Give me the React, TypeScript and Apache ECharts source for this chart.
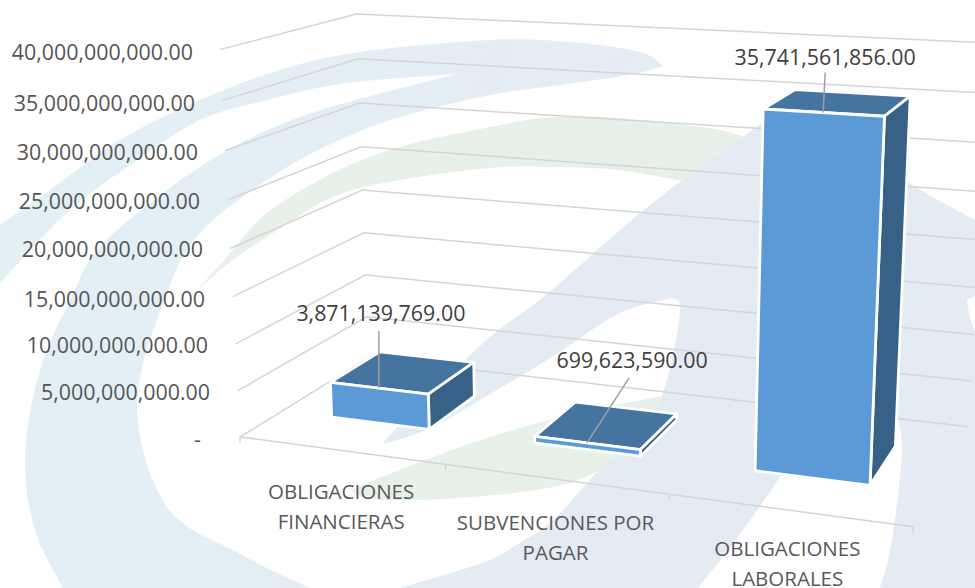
import React, { useEffect, useRef } from "react";
import * as echarts from "echarts";

// ---- data ----
const categories = ["OBLIGACIONES\nFINANCIERAS", "SUBVENCIONES POR\nPAGAR", "OBLIGACIONES\nLABORALES"];
const values = [3871139769, 699623590, 35741561856];
const axisTicks = [0, 5e9, 10e9, 15e9, 20e9, 25e9, 30e9, 35e9, 40e9];
const axisTickLabels = [
  "-",
  "5,000,000,000.00",
  "10,000,000,000.00",
  "15,000,000,000.00",
  "20,000,000,000.00",
  "25,000,000,000.00",
  "30,000,000,000.00",
  "35,000,000,000.00",
  "40,000,000,000.00",
];

// ---- layout of the perspective frame ----
const GRID = { left: 240, top: 52, width: 673, height: 387 };
// vanishing points and weights of the 3D box
const O = [240, 437];
const VX = [-4654, -215];
const VY = [600, 7400];
const VZ = [1344, -244];
const WX = -0.1209;
const WY = -0.0527;
const WZ = 0.1311;
function project(x: number, y: number, z: number): number[] {
  const u = x * WX, v = y * WY, w = z * WZ;
  const d = 1 + u + v + w;
  return [
    (O[0] + u * VX[0] + v * VY[0] + w * VZ[0]) / d,
    (O[1] + u * VX[1] + v * VY[1] + w * VZ[1]) / d,
  ];
}

const BAR_FRACTION = 0.49;
const Z_FRONT = 0.305;
const Z_BACK = 0.705;
const tickLabelRightPad = [9, 0, 2, 5, 7, 10, 12, 15, 17];
const tickLabelDownShift = [0, 1.4, 2.75, 5, 3.5, 3.9, 3.25, 2.6, -0.5];
const catShiftLeft = [22, 42, 27];
const catPadTop = [40, 71, 97];
const CAT_LINE_GAP = 9;
const leaderEnd = [[0, -57], [42, -65], [2, -40]];
const valueLabelOffset = [[2, -75.5], [45, -83.5], [2, -56.5]];

// ---- watermark outline ----
function smooth(segments: number[][][]): string {
  let d = "";
  segments.forEach((pts, si) => {
    d += (si === 0 ? "M" : "L") + pts[0][0] + " " + pts[0][1] + " ";
    for (let i = 0; i < pts.length - 1; i++) {
      const p0 = pts[Math.max(i - 1, 0)], p1 = pts[i], p2 = pts[i + 1], p3 = pts[Math.min(i + 2, pts.length - 1)];
      const c1 = [p1[0] + (p2[0] - p0[0]) / 6, p1[1] + (p2[1] - p0[1]) / 6];
      const c2 = [p2[0] - (p3[0] - p1[0]) / 6, p2[1] - (p3[1] - p1[1]) / 6];
      d += `C${c1[0]} ${c1[1]} ${c2[0]} ${c2[1]} ${p2[0]} ${p2[1]} `;
    }
  });
  return d + "Z";
}

const swirlPath = smooth([
  [[663, 66], [640, 52], [570, 42], [490, 40], [360, 52], [280, 70], [200, 100], [120, 140], [50, 190], [0, 225]],
  [[0, 283], [67, 213], [133, 163], [200, 120], [267, 100], [333, 85], [400, 78], [457, 74]],
  [[457, 74], [367, 97], [300, 117], [233, 147], [167, 190], [100, 247], [73, 294], [40, 370], [25, 457], [35, 530], [63, 588]],
  [[310, 588], [240, 554], [167, 507], [137, 404], [167, 293], [200, 233], [267, 180], [333, 143], [400, 117], [490, 95], [560, 85], [628, 75], [663, 66]],
]);
const greenTopPath = smooth([
  [[197, 290], [227, 257], [267, 213], [333, 173], [400, 147], [490, 127], [552, 117], [618, 118], [702, 127], [745, 137], [770, 150]],
  [[770, 150], [700, 190]],
  [[688, 182], [618, 170], [552, 167], [490, 168], [400, 180], [333, 197], [267, 237], [233, 260], [197, 290]],
]);
const greenLowPath = smooth([
  [[350, 490], [420, 462], [490, 437], [570, 415], [662, 396]],
  [[700, 400], [640, 470]],
  [[598, 471], [570, 483], [535, 490], [485, 496], [420, 500], [370, 499], [350, 490]],
]);
const grayPath = smooth([
  [[385, 440], [430, 395], [490, 337], [547, 294], [650, 205], [762, 123], [795, 100]],
  [[795, 100], [815, 115], [908, 182], [975, 220]],
  [[975, 588], [400, 588]],
  [[400, 588], [485, 562], [518, 544], [552, 521], [598, 471], [618, 454], [645, 427], [662, 396], [675, 345], [680, 305], [672, 298]],
  [[672, 298], [618, 314], [552, 357], [485, 397], [433, 427], [387, 443], [385, 440]],
]);
const whiteSwooshPath = smooth([
  [[698, 588], [738, 537], [782, 474], [830, 400]],
  [[890, 400], [902, 444], [892, 540], [880, 588]],
]);
const whiteTipPath = smooth([
  [[967, 300], [975, 296]],
  [[975, 332], [970, 318], [967, 300]],
]);
const greenSpeckPath = smooth([[[0, 226], [22, 212]], [[0, 233]]]);

const SHAPES: [string, string, any][] = [
  ["wmGreenTop", greenTopPath, "#e7f1ea"],
  ["wmGreenLow", greenLowPath, "#e7f1ea"],
  ["wmGreenSpeck", greenSpeckPath, "#e7f1ea"],
  ["wmSwirl", swirlPath, {
    type: "linear", x: 0, y: 0, x2: 1, y2: 0.3,
    colorStops: [{ offset: 0, color: "#e3f0f6" }, { offset: 0.5, color: "#e3eef5" }, { offset: 1, color: "#e6ecf4" }],
  }],
  ["wmGray", grayPath, "#e4ebf3"],
  ["wmWhiteSwoosh", whiteSwooshPath, "#ffffff"],
  ["wmWhiteTip", whiteTipPath, "#ffffff"],
];
SHAPES.forEach(([name, d]) => {
  echarts.graphic.registerShape(name, (echarts.graphic as any).extendPath(d, {}));
});

const FONT = '"Open Sans", sans-serif';
const GRID_COLOR = "#d5d5d5";

function formatValue(v: number): string {
  return v.toLocaleString("en-US", { minimumFractionDigits: 2, maximumFractionDigits: 2 });
}

function normalise(api: any, params: any, cat: number, val: number): number[] {
  const cs = params.coordSys;
  const p = api.coord([cat, val]);
  return [(p[0] - cs.x) / cs.width, (cs.y + cs.height - p[1]) / cs.height];
}

function renderGridLine(params: any, api: any) {
  const [, ny] = normalise(api, params, 0, api.value(1));
  const front = project(0, ny, 0);
  const back = project(0, ny, 1);
  const right = project(1, ny, 1);
  return {
    type: "polyline",
    silent: true,
    shape: { points: [front, back, right] },
    style: { fill: "none", stroke: GRID_COLOR, lineWidth: 1.5 },
  };
}

function renderFloorFront() {
  const stroke = GRID_COLOR;
  const children: any[] = [{
    type: "polyline",
    shape: { points: [project(0, 0, 0), project(1, 0, 0)] },
    style: { fill: "none", stroke, lineWidth: 1.5 },
  }];
  categories.concat("").forEach((_, i) => {
    const p = project(i / categories.length, 0, 0);
    children.push({
      type: "line",
      shape: { x1: p[0], y1: p[1], x2: p[0], y2: p[1] + 6 },
      style: { stroke, lineWidth: 1.5 },
    });
  });
  return { type: "group", silent: true, children };
}

function renderBar(params: any, api: any) {
  const cat = api.value(0);
  const val = api.value(1);
  const [nx, ny] = normalise(api, params, cat, val);
  const half = (api.size([1, 0])[0] / params.coordSys.width) * BAR_FRACTION / 2;
  const x0 = nx - half, x1 = nx + half;
  const fbl = project(x0, 0, Z_FRONT), fbr = project(x1, 0, Z_FRONT);
  const ftl = project(x0, ny, Z_FRONT), ftr = project(x1, ny, Z_FRONT);
  const bbr = project(x1, 0, Z_BACK);
  const btl = project(x0, ny, Z_BACK), btr = project(x1, ny, Z_BACK);
  const anchor = project(nx, ny, Z_FRONT);
  const i = params.dataIndex;
  const edge = { stroke: "#ffffff", lineWidth: 2.8, lineJoin: "round" };
  return {
    type: "group",
    silent: true,
    children: [
      { type: "polygon", shape: { points: [ftl, ftr, btr, btl] }, style: { fill: "#4674a1", ...edge } },
      { type: "polygon", shape: { points: [ftr, fbr, bbr, btr] }, style: { fill: "#386187", ...edge } },
      { type: "polygon", shape: { points: [ftl, ftr, fbr, fbl] }, style: { fill: "#5b9ad7", ...edge } },
      {
        type: "line",
        shape: { x1: anchor[0], y1: anchor[1], x2: anchor[0] + leaderEnd[i][0], y2: anchor[1] + leaderEnd[i][1] },
        style: { stroke: "#a0a0a0", lineWidth: 1.5 },
      },
      {
        type: "text",
        style: {
          x: anchor[0] + valueLabelOffset[i][0],
          y: anchor[1] + valueLabelOffset[i][1],
          text: formatValue(val),
          fill: "#404040",
          font: `21.4px ${FONT}`,
          align: "center",
          verticalAlign: "middle",
        },
      },
    ],
  };
}

const yRich: any = {};
axisTicks.forEach((_, i) => {
  yRich["y" + i] = {
    fontFamily: FONT,
    fontSize: 21.4,
    color: "#555555",
    padding: [Math.max(tickLabelDownShift[i], 0) * 2, tickLabelRightPad[i], Math.max(-tickLabelDownShift[i], 0) * 2, 0],
  };
});
const xRich: any = {};
categories.forEach((_, i) => {
  const base = { fontFamily: FONT, fontSize: 20.5, color: "#595959" };
  xRich["x" + i + "a"] = { ...base, padding: [catPadTop[i], catShiftLeft[i], 0, 0] };
  xRich["x" + i + "b"] = { ...base, padding: [CAT_LINE_GAP, catShiftLeft[i], 0, 0] };
});

export default function App() {
  const ref = useRef<HTMLDivElement>(null);
  useEffect(() => {
    const chart = echarts.init(ref.current!, undefined, { renderer: "svg" });
    chart.setOption({
      animation: false,
      backgroundColor: "#ffffff",
      graphic: {
        elements: SHAPES.map(([name, , fill]) => ({
          type: name,
          x: 0,
          y: 0,
          silent: true,
          style: { fill },
        })),
      },
      grid: { left: GRID.left, top: GRID.top, width: GRID.width, height: GRID.height, containLabel: false },
      xAxis: {
        type: "category",
        data: categories,
        axisLine: { show: false },
        axisTick: { show: false },
        splitLine: { show: false },
        axisLabel: {
          interval: 0,
          margin: 2,
          verticalAlign: "top",
          align: "center",
          rich: xRich,
          formatter: (value: string, index: number) =>
            value.split("\n").map((s, j) => `{x${index}${j ? "b" : "a"}|${s}}`).join("\n"),
        },
      },
      yAxis: {
        type: "value",
        min: 0,
        max: 40e9,
        interval: 5e9,
        axisLine: { show: false },
        axisTick: { show: false },
        splitLine: { show: false },
        axisLabel: {
          margin: 30,
          align: "right",
          rich: yRich,
          formatter: (value: number) => {
            const i = axisTicks.indexOf(value);
            return `{y${i}|${axisTickLabels[i]}}`;
          },
        },
      },
      series: [
        {
          type: "custom",
          name: "grid",
          z: 2,
          silent: true,
          clip: false,
          renderItem: renderGridLine,
          data: axisTicks.map((t) => [0, t]),
          encode: { x: 0, y: 1 },
        },
        {
          type: "custom",
          name: "floor",
          z: 2,
          silent: true,
          clip: false,
          renderItem: renderFloorFront,
          data: [[0, 0]],
          encode: { x: 0, y: 1 },
        },
        {
          type: "custom",
          name: "bars",
          z: 3,
          silent: true,
          clip: false,
          renderItem: renderBar,
          data: values.map((v, i) => [i, v]),
          encode: { x: 0, y: 1 },
        },
      ],
    });
    return () => chart.dispose();
  }, []);
  return <div ref={ref} style={{ position: "absolute", left: 0, top: 0, width: 975, height: 588 }} />;
}
